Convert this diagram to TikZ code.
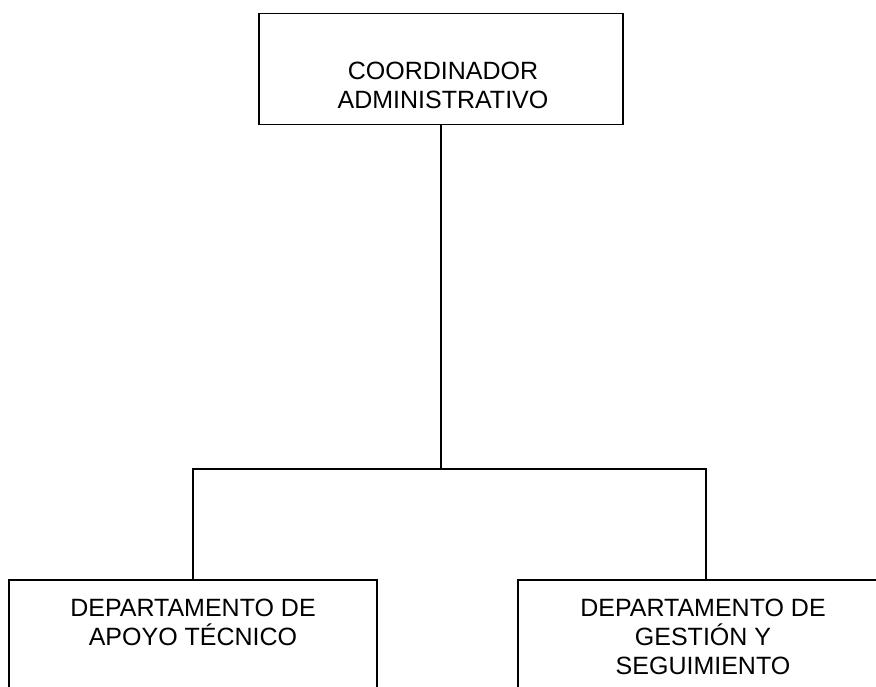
\documentclass[tikz,border=0pt]{standalone}
\usepackage{fontspec}
\setmainfont{Liberation Sans}
\usepackage{tikz}

\begin{document}
\begin{tikzpicture}[x=1pt,y=-1pt,line width=1.5pt,
    orgbox/.style={draw=black,rectangle,inner sep=0pt,anchor=north},
    orglbl/.style={align=center,inner sep=0pt,font=\fontsize{25}{29}\selectfont}]
  \useasboundingbox (0,0) rectangle (876,687);
  \clip (0,0) rectangle (876,687);
  % boxes
  \node[orgbox,minimum width=364pt,minimum height=111pt] (coord) at (441,13) {};
  \node[orgbox,minimum width=368pt,minimum height=160pt] (dat) at (193,579) {};
  \node[orgbox,minimum width=376pt,minimum height=160pt] (dgs) at (706,579) {};
  % texts
  \node[orglbl] (coordtxt) at (443,85.5) {COORDINADOR\\ADMINISTRATIVO};
  \node[orglbl] (dattxt) at (193,622) {DEPARTAMENTO DE\\APOYO TÉCNICO};
  \node[orglbl] (dgstxt) at (703,637) {DEPARTAMENTO DE\\GESTIÓN Y\\SEGUIMIENTO};
  % connectors
  \coordinate (split) at (441,469);
  \draw (coord.south) -- (split);
  \draw (split) -| (dat.north);
  \draw (split) -| (dgs.north);
\end{tikzpicture}
\end{document}
